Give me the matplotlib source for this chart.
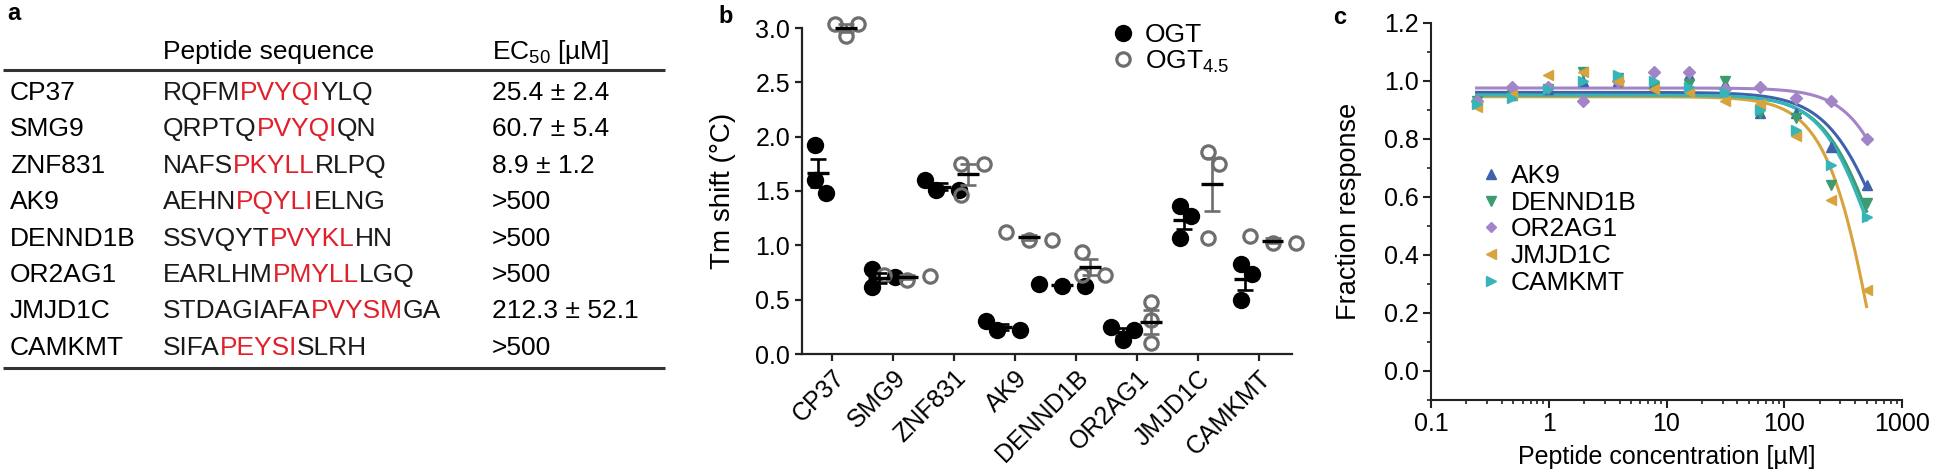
import matplotlib
matplotlib.use("Agg")
import numpy as np
import matplotlib.pyplot as plt
from matplotlib.lines import Line2D
from matplotlib.ticker import MultipleLocator, LogLocator, FixedLocator, FixedFormatter, NullFormatter

plt.rcParams["font.family"] = ["Liberation Sans", "DejaVu Sans"]
plt.rcParams["mathtext.fontset"] = "custom"
plt.rcParams["mathtext.rm"] = "Liberation Sans"
plt.rcParams["mathtext.it"] = "Liberation Sans:italic"
plt.rcParams["mathtext.bf"] = "Liberation Sans:bold"
plt.rcParams["mathtext.default"] = "rm"

FS_TEXT = 19      # table, legends
FS_TICK = 18      # tick labels
FS_LABEL = 20     # axis titles

# ---- panel a: peptide table
PEPTIDES = ["CP37", "SMG9", "ZNF831", "AK9", "DENND1B", "OR2AG1", "JMJD1C", "CAMKMT"]
SEQUENCES = ["RQFMPVYQIYLQ", "QRPTQPVYQIQN", "NAFSPKYLLRLPQ", "AEHNPQYLIELNG",
             "SSVQYTPVYKLHN", "EARLHMPMYLLLGQ", "STDAGIAFAPVYSMGA", "SIFAPEYSISLRH"]
MOTIFS = ["PVYQI", "PVYQI", "PKYLL", "PQYLI", "PVYKL", "PMYLL", "PVYSM", "PEYSI"]
EC50 = ["25.4 ± 2.4", "60.7 ± 5.4", "8.9 ± 1.2", ">500", ">500", ">500", "212.3 ± 52.1", ">500"]

# ---- panel b: Tm shift (three replicates per peptide)
OGT_VALUES = [
    [1.92, 1.60, 1.48],
    [0.78, 0.62, 0.71],
    [1.60, 1.51, 1.51],
    [0.30, 0.22, 0.22],
    [0.64, 0.63, 0.63],
    [0.25, 0.13, 0.22],
    [1.36, 1.27, 1.07],
    [0.83, 0.74, 0.50],
]
OGT45_VALUES = [
    [3.04, 2.93, 3.04],
    [0.73, 0.68, 0.72],
    [1.75, 1.75, 1.46],
    [1.12, 1.05, 1.05],
    [0.94, 0.73, 0.73],
    [0.48, 0.31, 0.10],
    [1.86, 1.75, 1.07],
    [1.09, 1.02, 1.02],
]

# ---- panel c: dose response
CONCENTRATIONS = [0.244, 0.488, 0.977, 1.95, 3.91, 7.81, 15.6, 31.25, 62.5, 125, 250, 500]
CURVE_NAMES = ["AK9", "DENND1B", "OR2AG1", "JMJD1C", "CAMKMT"]
RESPONSES = [
    [0.93, 0.95, 0.97, 1.00, 1.00, 0.99, 1.02, 0.99, 0.89, 0.89, 0.77, 0.64],
    [0.93, 0.95, 0.97, 1.03, 1.01, 0.98, 0.99, 1.00, 0.89, 0.87, 0.64, 0.58],
    [0.93, 0.98, 0.98, 0.93, 1.00, 1.03, 1.03, 0.97, 0.98, 0.94, 0.93, 0.80],
    [0.91, 0.95, 1.02, 1.03, 1.00, 0.97, 0.96, 0.93, 0.92, 0.81, 0.59, 0.28],
    [0.92, 0.94, 0.97, 1.00, 1.02, 1.00, 0.98, 0.96, 0.90, 0.83, 0.71, 0.53],
]
FIT_TOP = [0.96, 0.95, 0.975, 0.945, 0.95]
FIT_BOTTOM = [0.0, 0.0, 0.0, -1.0, 0.0]
FIT_EC50 = [717, 589, 1068, 650, 549]
FIT_HILL = [1.79, 1.95, 2.02, 2.0, 2.03]
CURVE_COLORS = ["#3f62ad", "#3c9c70", "#a185c6", "#d6a33c", "#35b5b8"]
CURVE_MARKERS = ["^", "v", "D", "<", ">"]

W, H = 1940, 475
fig = plt.figure(figsize=(W / 100, H / 100), dpi=100)

# ================= panel a
ax_a = fig.add_axes([0, 0, 680 / W, 1])
ax_a.set_xlim(0, 680)
ax_a.set_ylim(H, 0)
ax_a.axis("off")
ax_a.text(7, 2, "a", fontsize=17, fontweight="bold", va="top", ha="left")
ax_a.text(163, 59, "Peptide sequence", fontsize=FS_TEXT, va="baseline")
ax_a.text(492, 59, r"EC$_{50}$ [µM]", fontsize=FS_TEXT, va="baseline")
ax_a.plot([3, 665], [70, 70], color="#333333", lw=2.2, solid_capstyle="butt")
ax_a.plot([3, 665], [368, 368], color="#333333", lw=2.2, solid_capstyle="butt")
for i, (name, seq, motif, ec) in enumerate(zip(PEPTIDES, SEQUENCES, MOTIFS, EC50)):
    y = 100 + i * 36.4
    ax_a.text(10, y, name, fontsize=FS_TEXT, va="baseline")
    k = seq.find(motif)
    pieces = [(seq[:k], "#1a1a1a"), (motif, "#e0202a"), (seq[k + len(motif):], "#1a1a1a")]
    prev = None
    for s, c in pieces:
        if not s:
            continue
        if prev is None:
            prev = ax_a.text(163, y, s, fontsize=FS_TEXT, va="baseline", color=c)
        else:
            prev = ax_a.annotate(s, xy=(1, y), xycoords=(prev, "data"), fontsize=FS_TEXT,
                                 va="baseline", ha="left", color=c)
    ax_a.text(492, y, ec, fontsize=FS_TEXT, va="baseline")

# ================= panel b
ax_b = fig.add_axes([802 / W, 1 - 354 / H, 490 / W, 326 / H])
ax_b.set_xlim(-0.5, 7.55)
ax_b.set_ylim(0, 3.0)
for s in ["top", "right"]:
    ax_b.spines[s].set_visible(False)
for s in ["left", "bottom"]:
    ax_b.spines[s].set_linewidth(1.6)
    ax_b.spines[s].set_color("#222222")

px_x = 490 / 8.05
px_y = 326 / 3.0


def swarm(values, thresh=14.0, step=11.5):
    placed = []
    for v in values:
        k = 0
        while True:
            off = k * step
            ok = all(np.hypot(off - o, (v - pv) * px_y) >= thresh for o, pv in placed)
            if ok:
                break
            k += 1
        placed.append((off, v))
    offs = np.array([p[0] for p in placed])
    return (offs - offs.mean()) / px_x


groups = [(OGT_VALUES, -0.23, "black", "black", "black"),
          (OGT45_VALUES, 0.23, "none", "#6e6e6e", "#6e6e6e")]
for vals_all, shift, fc, ec, errc in groups:
    for i, vals in enumerate(vals_all):
        offs = swarm(vals)
        xs = i + shift + offs
        if fc == "none":
            ax_b.plot(xs, vals, "o", ms=9.6, mfc="none", mec=ec, mew=2.3, ls="none",
                      clip_on=False, zorder=3)
        else:
            ax_b.plot(xs, vals, "o", ms=12.5, mfc=fc, mec=ec, mew=0, ls="none",
                      clip_on=False, zorder=3)
        m = np.mean(vals)
        sem = np.std(vals, ddof=1) / np.sqrt(len(vals))
        ax_b.errorbar(i + shift, m, yerr=sem, fmt="none", ecolor=errc, elinewidth=1.9,
                      capsize=5.5, capthick=1.9, zorder=4, clip_on=False)
        ax_b.plot([i + shift - 0.18, i + shift + 0.18], [m, m], color="black", lw=2.4,
                  zorder=5, solid_capstyle="butt", clip_on=False)

ax_b.set_xticks(range(len(PEPTIDES)))
ax_b.set_xticklabels(PEPTIDES, rotation=45, ha="right", va="top", rotation_mode="anchor")
ax_b.set_yticks(np.arange(0, 3.01, 0.5))
ax_b.set_yticklabels([f"{v:.1f}" for v in np.arange(0, 3.01, 0.5)])
ax_b.tick_params(axis="both", direction="out", length=5, width=1.6, labelsize=FS_TICK, pad=3.5,
                 color="#222222")
ax_b.set_ylabel("Tm shift (°C)", fontsize=FS_LABEL)
ax_b.yaxis.set_label_coords(-0.135, 0.5)
ax_b.text(-0.17, 1.07, "b", transform=ax_b.transAxes, fontsize=17, fontweight="bold",
          va="top", ha="left")

leg_b = [Line2D([], [], marker="o", ms=12.5, mfc="black", mec="black", mew=0, ls="none"),
         Line2D([], [], marker="o", ms=9.6, mfc="none", mec="#6e6e6e", mew=2.3, ls="none")]
ax_b.legend(leg_b, ["OGT", r"OGT$_{4.5}$"], loc="upper left", bbox_to_anchor=(0.629, 1.015),
            frameon=False, fontsize=FS_TEXT, handlelength=1.0, handletextpad=0.3,
            labelspacing=0.05, borderpad=0, borderaxespad=0)

# ================= panel c
ax_c = fig.add_axes([1431 / W, 1 - 400 / H, 471 / W, 377.3 / H])
ax_c.set_xscale("log")
ax_c.set_xlim(0.1, 1000)
ax_c.set_ylim(-0.1, 1.2)
for s in ["top", "right"]:
    ax_c.spines[s].set_visible(False)
for s in ["left", "bottom"]:
    ax_c.spines[s].set_linewidth(1.5)
    ax_c.spines[s].set_color("#222222")

xfit = np.logspace(np.log10(CONCENTRATIONS[0]), np.log10(CONCENTRATIONS[-1]), 300)
for j, name in enumerate(CURVE_NAMES):
    top, bot, ec50, hill = FIT_TOP[j], FIT_BOTTOM[j], FIT_EC50[j], FIT_HILL[j]
    yfit = bot + (top - bot) / (1 + (xfit / ec50) ** hill)
    ax_c.plot(xfit, yfit, color=CURVE_COLORS[j], lw=2.2, zorder=2)
    ms = 6.5 if CURVE_MARKERS[j] == "D" else 7.5
    ax_c.plot(CONCENTRATIONS, RESPONSES[j], CURVE_MARKERS[j], color=CURVE_COLORS[j], ms=ms,
              ls="none", zorder=3, clip_on=False)

ax_c.set_yticks(np.arange(0, 1.21, 0.2))
ax_c.set_yticklabels([f"{v:.1f}" for v in np.arange(0, 1.21, 0.2)])
ax_c.yaxis.set_minor_locator(MultipleLocator(0.1))
ax_c.xaxis.set_major_locator(FixedLocator([0.1, 1, 10, 100, 1000]))
ax_c.xaxis.set_major_formatter(FixedFormatter(["0.1", "1", "10", "100", "1000"]))
ax_c.xaxis.set_minor_locator(LogLocator(base=10, subs=np.arange(2, 10)))
ax_c.xaxis.set_minor_formatter(NullFormatter())
ax_c.tick_params(axis="both", which="major", direction="out", length=5.5, width=1.5,
                 labelsize=FS_TICK, pad=3, color="#222222")
ax_c.tick_params(axis="both", which="minor", direction="out", length=3, width=1.2,
                 color="#222222")
ax_c.set_ylabel("Fraction response", fontsize=19.5)
ax_c.yaxis.set_label_coords(-0.147, 0.5)
ax_c.set_xlabel("Peptide concentration [µM]", fontsize=18)
ax_c.xaxis.set_label_coords(0.5, -0.118)
ax_c.text(-0.208, 1.045, "c", transform=ax_c.transAxes, fontsize=17, fontweight="bold",
          va="top", ha="left")

leg_c = [Line2D([], [], marker=CURVE_MARKERS[j], color=CURVE_COLORS[j],
                ms=5.5 if CURVE_MARKERS[j] == "D" else 6.5, ls="none")
         for j in range(len(CURVE_NAMES))]
ax_c.legend(leg_c, CURVE_NAMES, loc="upper left", bbox_to_anchor=(0.1, 0.625), frameon=False,
            fontsize=FS_TEXT, handlelength=1.0, handletextpad=0.25, labelspacing=0.1,
            borderpad=0, borderaxespad=0)

fig.savefig("out.png", dpi=100)
